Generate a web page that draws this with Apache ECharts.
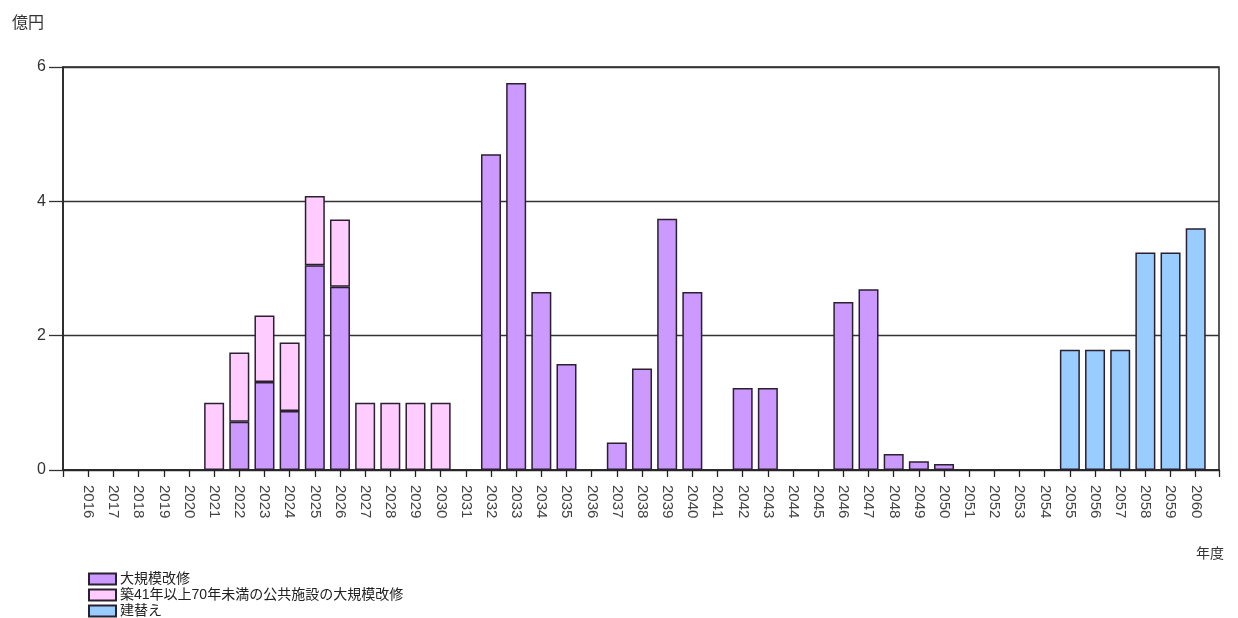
<!DOCTYPE html>
<html>
<head>
<meta charset="utf-8">
<script src="https://cdn.jsdelivr.net/npm/echarts@6/dist/echarts.min.js"></script>
<style>
  html, body { margin: 0; padding: 0; background: #fff; }
  #chart { width: 1238px; height: 618px; }
</style>
</head>
<body>
<div id="chart"></div>
<script>
// 年度 (2016〜2060)
const years = [];
for (let y = 2016; y <= 2060; y++) years.push(String(y));

// 大規模改修 (億円)
const majorRepair = [
  null, null, null, null, null, null, 0.72, 1.31, 0.88, 3.05,
  2.73, null, null, null, null, null, 4.70, 5.76, 2.65, 1.58,
  null, 0.41, 1.51, 3.74, 2.65, null, 1.22, 1.22, null, null,
  2.50, 2.69, 0.24, 0.13, 0.09, null, null, null, null, null,
  null, null, null, null, null
];

// 築41年以上70年未満の公共施設の大規模改修 (億円)
const agedRepair = [
  null, null, null, null, null, 1.00, 1.03, 0.99, 1.02, 1.03,
  1.00, 1.00, 1.00, 1.00, 1.00, null, null, null, null, null,
  null, null, null, null, null, null, null, null, null, null,
  null, null, null, null, null, null, null, null, null, null,
  null, null, null, null, null
];

// 建替え (億円)
const rebuild = [
  null, null, null, null, null, null, null, null, null, null,
  null, null, null, null, null, null, null, null, null, null,
  null, null, null, null, null, null, null, null, null, null,
  null, null, null, null, null, null, null, null, null, 1.79,
  1.79, 1.79, 3.24, 3.24, 3.60
];

const yTicks = { min: 0, max: 6, interval: 2 };
const seriesNames = ['大規模改修', '築41年以上70年未満の公共施設の大規模改修', '建替え'];
const seriesColors = ['#cc99ff', '#ffccff', '#99ccff'];

const font = '"Liberation Sans", Arial, "Noto Sans CJK JP", sans-serif';
const edge = '#2a2030';

const chart = echarts.init(document.getElementById('chart'), null, { renderer: 'canvas' });

function barSeries(i, data) {
  return {
    name: seriesNames[i],
    type: 'bar',
    stack: 'total',
    xAxisIndex: 0,
    yAxisIndex: 0,
    barWidth: 20,
    data: data,
    itemStyle: { color: seriesColors[i], borderColor: edge, borderWidth: 1.5 }
  };
}

chart.setOption({
  animation: false,
  backgroundColor: '#ffffff',
  textStyle: { fontFamily: font },
  grid: [
    // category band for the bars
    { left: 75.7, right: 29.7, top: 67, bottom: 148 },
    // outer frame with value axis and grid lines
    { left: 63, right: 19, top: 67, bottom: 148, show: true, borderColor: '#222', borderWidth: 1.5, backgroundColor: 'transparent' }
  ],
  xAxis: [
    {
      type: 'category',
      gridIndex: 0,
      data: years,
      axisLine: { show: false },
      axisTick: { show: true, alignWithLabel: true, length: 7, lineStyle: { color: '#222', width: 1.3 } },
      axisLabel: { rotate: -90, margin: 15, fontSize: 15, color: '#444', fontFamily: font },
      splitLine: { show: false }
    },
    {
      type: 'value',
      gridIndex: 1,
      min: 0, max: 1, interval: 1,
      axisLine: { show: true, lineStyle: { color: '#222', width: 1.5 } },
      axisTick: { show: true, length: 7, lineStyle: { color: '#222', width: 1.3 } },
      axisLabel: { show: false },
      splitLine: { show: false }
    }
  ],
  yAxis: [
    {
      type: 'value',
      gridIndex: 0,
      min: yTicks.min, max: yTicks.max, interval: yTicks.interval,
      show: false,
      splitLine: { show: false }
    },
    {
      type: 'value',
      gridIndex: 1,
      min: yTicks.min, max: yTicks.max, interval: yTicks.interval,
      axisLine: { show: true, lineStyle: { color: '#222', width: 1.5 } },
      axisTick: { show: true, length: 14, lineStyle: { color: '#333', width: 1.3 } },
      axisLabel: { margin: 17, fontSize: 16, color: '#333', fontFamily: font },
      splitLine: { show: true, lineStyle: { color: '#333', width: 1.3 } }
    }
  ],
  legend: {
    orient: 'vertical',
    left: 88,
    top: 572,
    padding: 0,
    itemWidth: 27,
    itemHeight: 11,
    itemGap: 2,
    icon: 'rect',
    textStyle: { fontSize: 14, color: '#222', fontFamily: font, lineHeight: 12, padding: [0, 0, 0, -1] },
    data: seriesNames
  },
  graphic: [
    { type: 'text', left: 12, top: 16, style: { text: '億円', fontSize: 16, fill: '#333', fontFamily: font } },
    { type: 'text', left: 1196, top: 547, style: { text: '年度', fontSize: 14, fill: '#333', fontFamily: font } }
  ],
  series: [
    barSeries(0, majorRepair),
    barSeries(1, agedRepair),
    barSeries(2, rebuild)
  ]
});
</script>
</body>
</html>
